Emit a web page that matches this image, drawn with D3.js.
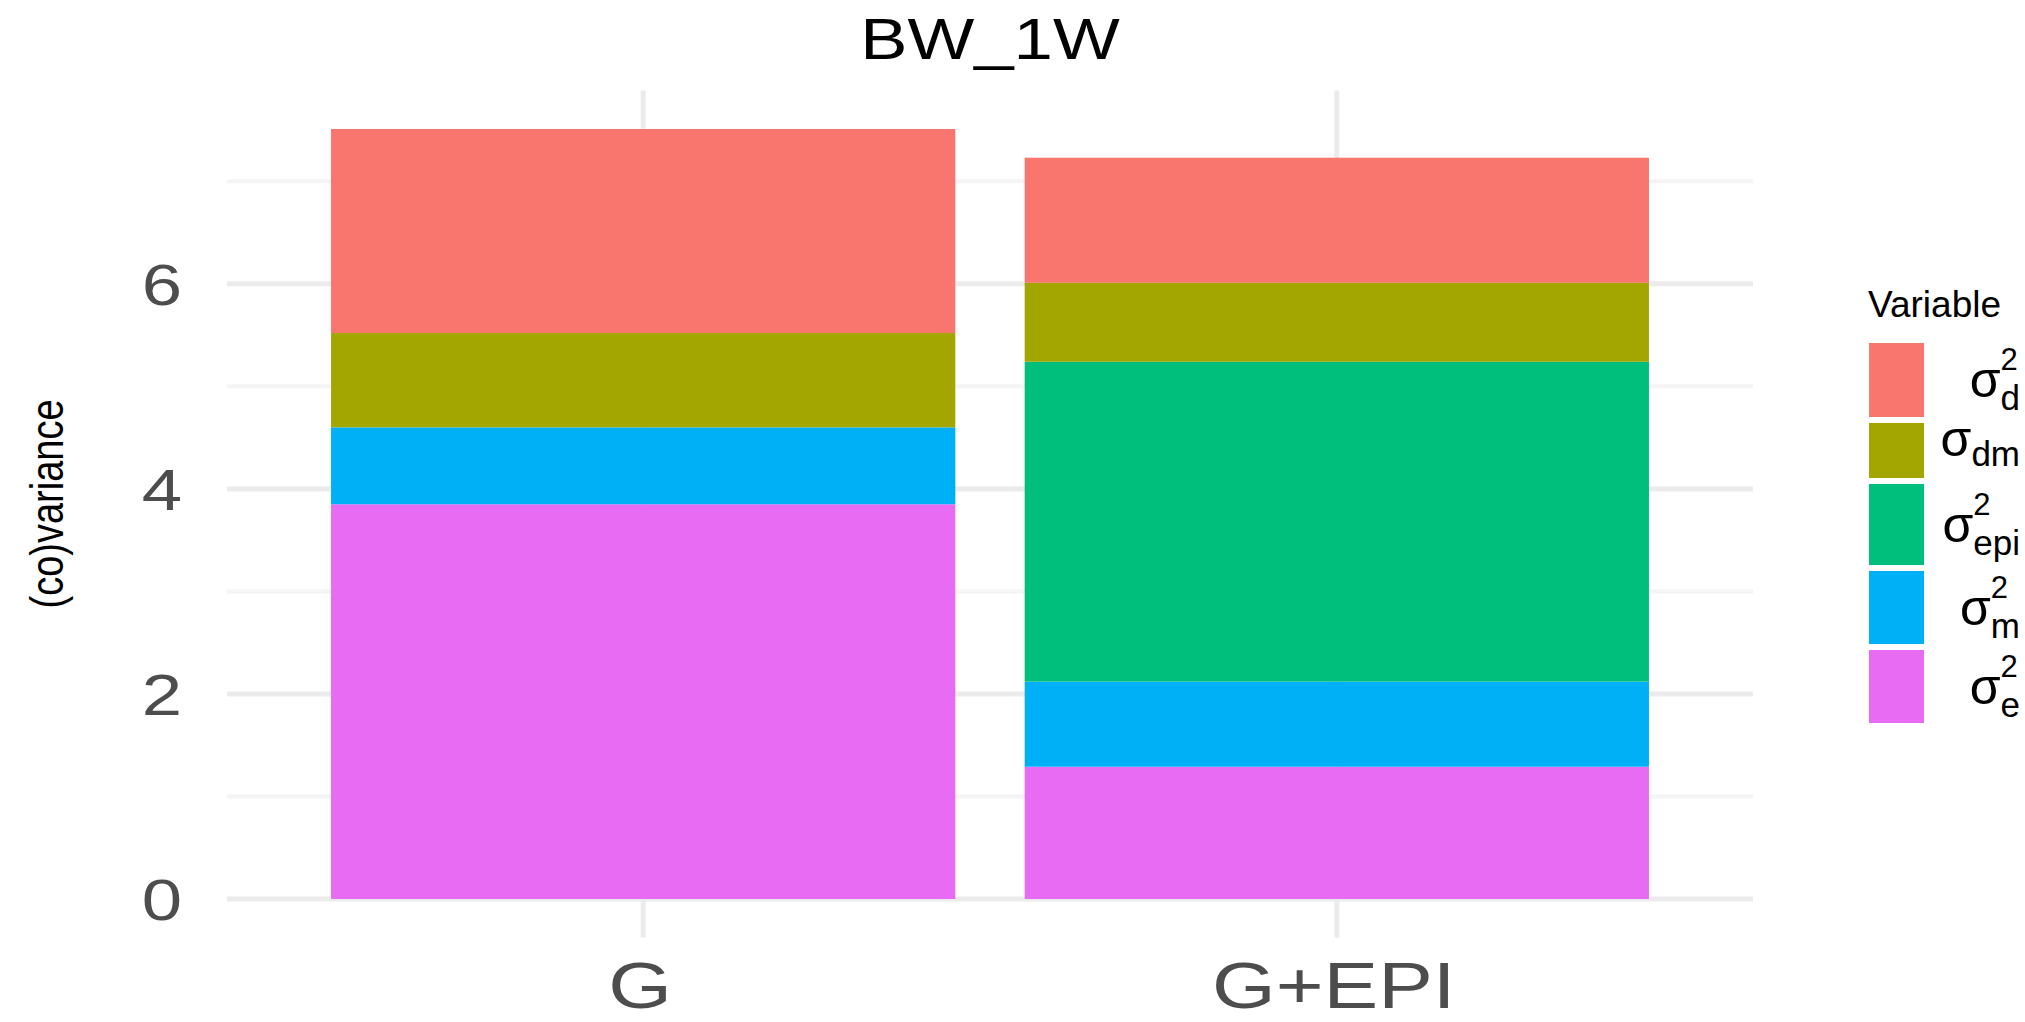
<!DOCTYPE html>
<html>
<head>
<meta charset="utf-8">
<script src="https://cdn.jsdelivr.net/npm/d3@7"></script>
<style>
  body { margin: 0; background: #fff; }
  text { font-family: "Liberation Sans", Arial, sans-serif; }
</style>
</head>
<body>
<svg id="chart"></svg>
<script>
// data
const categories = ['G', 'G+EPI']
const sigmaE = [3.85, 1.29]
const sigmaM = [0.75, 0.83]
const sigmaEpi = [0, 3.12]
const sigmaDm = [0.92, 0.77]
const sigmaD = [1.99, 1.22]
const yTicks = [0, 2, 4, 6]
const yMinorTicks = [1, 3, 5, 7]

// legend order, top to bottom
const legendKeys = ['d', 'dm', 'epi', 'm', 'e']
const legendSup = ['2', '', '2', '2', '2']
const colors = ['#F8766D', '#A3A500', '#00BF7D', '#00B0F6', '#E76BF3']

const W = 2025
const H = 1022
const svg = d3.select('#chart').attr('width', W).attr('height', H)

const panel = { left: 227, right: 1753, top: 90.5, bottom: 937.5 }
const stretch = 1.25 // glyphs in the picture are wider than the font gives

const rows = categories.map(function (c, i) {
  return { cat: c, e: sigmaE[i], m: sigmaM[i], epi: sigmaEpi[i], dm: sigmaDm[i], d: sigmaD[i] }
})
const stackOrder = ['e', 'm', 'epi', 'dm', 'd']
const series = d3.stack().keys(stackOrder)(rows)

const maxTotal = d3.max(rows, function (r) { return r.e + r.m + r.epi + r.dm + r.d })
const pad = maxTotal * 0.05

const x = d3.scaleBand()
  .domain(categories)
  .range([panel.left, panel.right])
  .paddingInner(0.1)
  .paddingOuter(0.15)

const y = d3.scaleLinear()
  .domain([-pad, maxTotal + pad])
  .range([panel.bottom, panel.top])

const color = d3.scaleOrdinal().domain(legendKeys).range(colors)

// grid
const grid = svg.append('g')
grid.selectAll('.minor')
  .data(yMinorTicks)
  .enter().append('line')
    .attr('x1', panel.left).attr('x2', panel.right)
    .attr('y1', function (d) { return y(d) }).attr('y2', function (d) { return y(d) })
    .attr('stroke', '#F4F4F4').attr('stroke-width', 4)
grid.selectAll('.major')
  .data(yTicks)
  .enter().append('line')
    .attr('x1', panel.left).attr('x2', panel.right)
    .attr('y1', function (d) { return y(d) }).attr('y2', function (d) { return y(d) })
    .attr('stroke', '#EBEBEB').attr('stroke-width', 5)
grid.selectAll('.vmajor')
  .data(categories)
  .enter().append('line')
    .attr('x1', function (d) { return x(d) + x.bandwidth() / 2 })
    .attr('x2', function (d) { return x(d) + x.bandwidth() / 2 })
    .attr('y1', panel.top).attr('y2', panel.bottom)
    .attr('stroke', '#EBEBEB').attr('stroke-width', 5)

// bars
svg.append('g')
  .selectAll('g')
  .data(series)
  .enter().append('g')
    .attr('fill', function (d) { return color(d.key) })
  .selectAll('rect')
  .data(function (d) { return d })
  .enter().append('rect')
    .attr('x', function (d) { return x(d.data.cat) })
    .attr('width', x.bandwidth())
    .attr('y', function (d) { return y(d[1]) })
    .attr('height', function (d) { return y(d[0]) - y(d[1]) })

// y axis labels
const yAxis = svg.append('g')
  .attr('transform', 'translate(' + panel.left + ',0)')
  .call(d3.axisLeft(y).tickValues(yTicks).tickSize(0).tickFormat(d3.format('d')))
yAxis.select('.domain').remove()
yAxis.selectAll('text')
  .attr('x', -45 / stretch)
  .attr('dy', '0.36em')
  .attr('transform', 'scale(' + stretch + ',1)')
  .attr('fill', '#4D4D4D')
  .style('font-size', '58px')
  .style('font-family', '"Liberation Sans", Arial, sans-serif')

// x axis labels (kept just inside the bottom edge)
const xAxis = svg.append('g')
  .attr('transform', 'translate(0,1008)')
  .call(d3.axisBottom(x).tickSize(0))
xAxis.select('.domain').remove()
xAxis.selectAll('.tick text')
  .attr('y', 0)
  .attr('dy', 0)
  .attr('transform', 'scale(1.28,1)')
  .attr('fill', '#4D4D4D')
  .style('font-size', '64px')
  .style('font-family', '"Liberation Sans", Arial, sans-serif')
xAxis.selectAll('.tick')
  .attr('transform', function (d) { return 'translate(' + (x(d) + x.bandwidth() / 2 - 3) + ',0)' })

// title
svg.append('text')
  .attr('transform', 'translate(990,59) scale(1.22,1)')
  .attr('text-anchor', 'middle')
  .attr('fill', '#000')
  .style('font-size', '58px')
  .text('BW_1W')

// y axis title
svg.append('text')
  .attr('transform', 'translate(63,504) scale(1.2,1) rotate(-90)')
  .attr('text-anchor', 'middle')
  .attr('fill', '#000')
  .style('font-size', '38px')
  .text('(co)variance')

// legend
const legend = svg.append('g')
legend.append('text')
  .attr('x', 1868)
  .attr('y', 317)
  .attr('fill', '#000')
  .style('font-size', '37px')
  .text('Variable')

const keyH = [74, 55, 81, 73, 73]
const keyGap = 6
const labelRight = 2020
let keyTop = 343
legendKeys.forEach(function (k, i) {
  const h = keyH[i]
  legend.append('rect')
    .attr('x', 1869).attr('y', keyTop)
    .attr('width', 55).attr('height', h)
    .attr('fill', color(k))

  const cy = keyTop + h / 2
  const base = cy + (legendSup[i] ? 17 : 5)
  const lab = legend.append('g').attr('fill', '#000')
  const sub = lab.append('text')
    .attr('y', base + (legendSup[i] ? 13 : 10))
    .style('font-size', '35px')
    .text(k)
  let w = sub.node().getComputedTextLength()
  let sup = null
  if (legendSup[i]) {
    sup = lab.append('text')
      .attr('y', base - 27)
      .style('font-size', '31px')
      .text(legendSup[i])
    w = Math.max(w, sup.node().getComputedTextLength())
  }
  const left = labelRight - w
  sub.attr('x', left)
  if (sup) sup.attr('x', left)
  lab.append('text')
    .attr('x', left)
    .attr('y', base)
    .attr('text-anchor', 'end')
    .style('font-size', '50px')
    .text('\u03C3')

  keyTop += h + keyGap
})
</script>
</body>
</html>
